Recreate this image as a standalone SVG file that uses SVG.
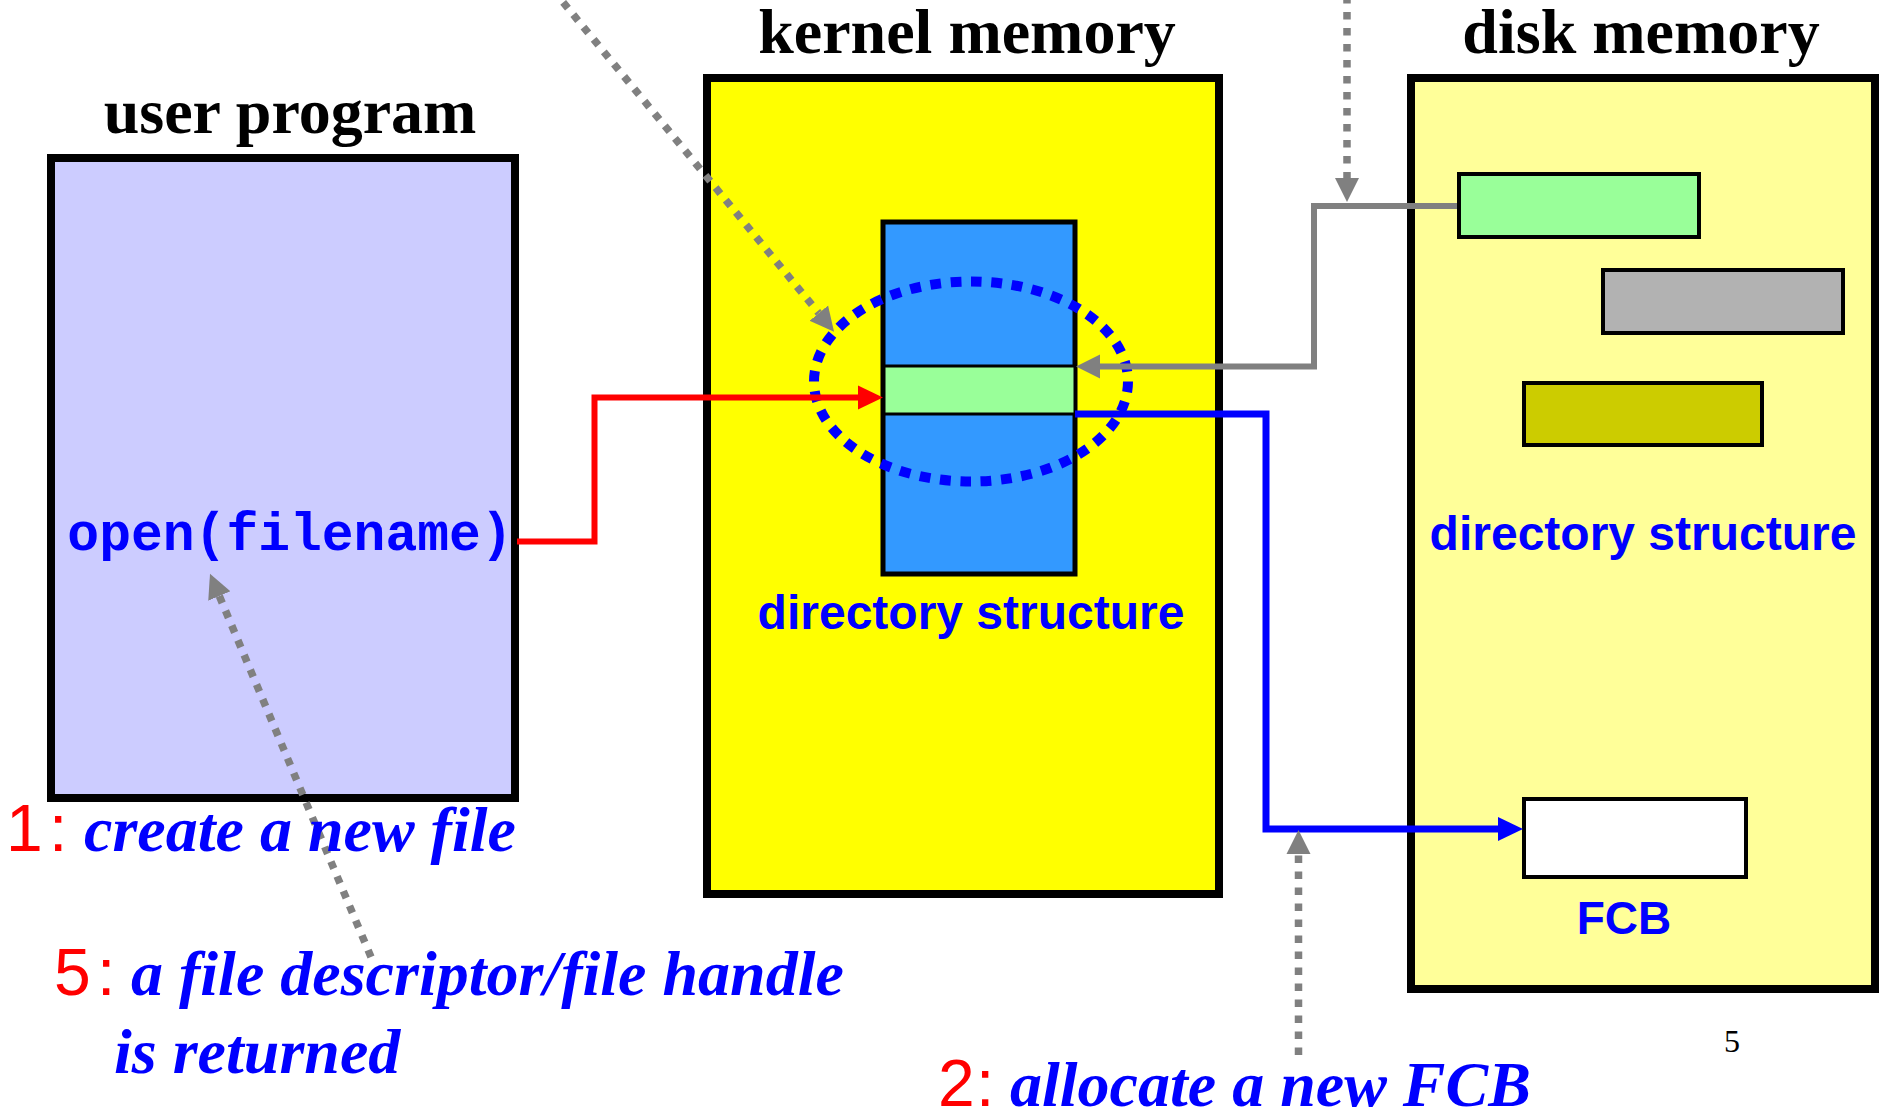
<svg xmlns="http://www.w3.org/2000/svg" width="1887" height="1113" viewBox="0 0 1887 1113">
  <style>
    .title { font-family: "Liberation Serif", "Times New Roman", serif; font-weight: bold; font-size: 64px; fill: #000; text-anchor: middle; }
    .lbl { font-family: "Liberation Sans", Arial, sans-serif; font-weight: bold; fill: #0000FF; text-anchor: middle; }
    .code { font-family: "Liberation Mono", "Courier New", monospace; font-weight: bold; font-size: 53px; fill: #0000FF; text-anchor: middle; }
    .num { font-family: "Liberation Sans", Arial, sans-serif; font-size: 66px; fill: #FF0000; }
    .step { font-family: "Liberation Serif", "Times New Roman", serif; font-weight: bold; font-style: italic; font-size: 64px; fill: #0000FF; }
    .box { stroke: #000; stroke-width: 8; }
    .inner { stroke: #000; stroke-width: 4; }
    .gdot { fill: none; stroke: #808080; stroke-width: 7.5; stroke-dasharray: 7.5 8.5; }
    .gsolid { fill: none; stroke: #808080; stroke-width: 6; }
  </style>
  <defs>
    <marker id="ah-gray" markerUnits="userSpaceOnUse" markerWidth="26" markerHeight="26" viewBox="0 -13 26 26" refX="0" refY="0" orient="auto">
      <path d="M0,-12 L24,0 L0,12 z" fill="#808080"/>
    </marker>
    <marker id="ah-red" markerUnits="userSpaceOnUse" markerWidth="26" markerHeight="26" viewBox="0 -13 26 26" refX="0" refY="0" orient="auto">
      <path d="M0,-12 L25,0 L0,12 z" fill="#FF0000"/>
    </marker>
    <marker id="ah-blue" markerUnits="userSpaceOnUse" markerWidth="26" markerHeight="26" viewBox="0 -13 26 26" refX="0" refY="0" orient="auto">
      <path d="M0,-12 L25,0 L0,12 z" fill="#0000FF"/>
    </marker>
  </defs>

  <rect x="0" y="0" width="1887" height="1113" fill="#FFFFFF"/>

  <g id="user-program">
    <text class="title" x="290" y="133">user program</text>
    <rect class="box" x="51" y="158" width="464" height="640" fill="#CCCCFF"/>
    <text class="code" x="290" y="550">open(filename)</text>
  </g>

  <g id="kernel-memory">
    <text class="title" x="967" y="53">kernel memory</text>
    <rect class="box" x="707" y="78" width="512" height="816" fill="#FFFF00"/>
    <rect x="883" y="222" width="192" height="352" fill="#3399FF" stroke="#000" stroke-width="5"/>
    <rect x="884" y="366" width="191" height="48" fill="#99FF99" stroke="#000" stroke-width="3"/>
    <ellipse cx="971" cy="381.5" rx="157" ry="100" fill="none" stroke="#0000FF" stroke-width="10" pathLength="800" stroke-dasharray="10.5 9.5"/>
    <text class="lbl" x="971" y="629" font-size="48">directory structure</text>
  </g>

  <g id="disk-memory">
    <text class="title" x="1641" y="53">disk memory</text>
    <rect class="box" x="1411" y="78" width="464" height="911" fill="#FFFF99"/>
    <rect class="inner" x="1459" y="174" width="240" height="63" fill="#99FF99"/>
    <rect class="inner" x="1603" y="270" width="240" height="63" fill="#B2B2B2"/>
    <rect class="inner" x="1524" y="383" width="238" height="62" fill="#CCCC00"/>
    <text class="lbl" x="1643" y="550" font-size="48">directory structure</text>
    <rect class="inner" x="1524" y="799" width="222" height="78" fill="#FFFFFF"/>
    <text class="lbl" x="1624" y="934" font-size="46">FCB</text>
  </g>

  <g id="connectors">
    <path d="M517,541.5 H594.5 V397.5 H858" fill="none" stroke="#FF0000" stroke-width="6" marker-end="url(#ah-red)"/>
    <path d="M1075,414 H1266 V829 H1498" fill="none" stroke="#0000FF" stroke-width="7" marker-end="url(#ah-blue)"/>
    <path class="gsolid" d="M1457,206 H1314 V366.5 H1100" marker-end="url(#ah-gray)"/>
    <path class="gdot" d="M1347,-4 V178" marker-end="url(#ah-gray)"/>
    <path class="gdot" d="M553,-10 L818.8,313.2" marker-end="url(#ah-gray)"/>
    <path class="gdot" d="M371,957 L219.3,596" marker-end="url(#ah-gray)"/>
    <path class="gdot" d="M1298.5,1055 V854" marker-end="url(#ah-gray)"/>
  </g>

  <g id="label-1">
    <text class="num" x="6" y="851">1</text>
    <text class="num" x="49" y="851">:</text>
    <text class="step" x="84" y="851">create a new file</text>
  </g>

  <g id="label-5">
    <text class="num" x="54" y="995">5</text>
    <text class="num" x="97" y="995">:</text>
    <text class="step" x="131" y="995">a file descriptor/file handle</text>
    <text class="step" x="114" y="1073">is returned</text>
  </g>

  <g id="label-2">
    <text class="num" x="938" y="1106">2</text>
    <text class="num" x="976" y="1106">:</text>
    <text class="step" x="1010" y="1106">allocate a new FCB</text>
  </g>

  <text x="1724" y="1052" font-family="Liberation Serif, 'Times New Roman', serif" font-size="32" fill="#000">5</text>
</svg>
